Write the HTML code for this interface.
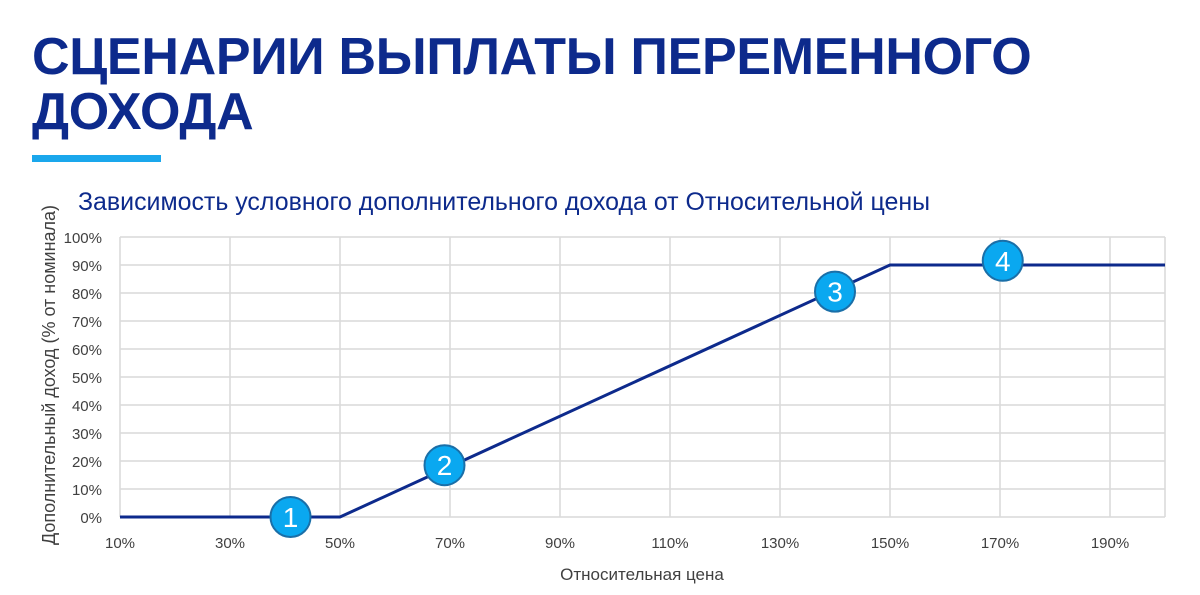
<!DOCTYPE html>
<html><head><meta charset="utf-8"><style>
body{margin:0;width:1200px;height:595px;background:#fff;overflow:hidden;font-family:"Liberation Sans",sans-serif}
h1{position:absolute;left:32px;top:30px;margin:0;font-size:52px;line-height:55px;font-weight:bold;color:#0d2a8c;letter-spacing:-0.3px}
.bar{position:absolute;left:32px;top:155px;width:129px;height:7px;background:#1aa7ec}
svg{position:absolute;left:0;top:0}
</style></head><body>
<h1>СЦЕНАРИИ ВЫПЛАТЫ ПЕРЕМЕННОГО<br>ДОХОДА</h1>
<div class="bar"></div>
<svg id="c" width="1200" height="595"></svg>
<script>
const xTicks=[10,30,50,70,90,110,130,150,170,190];
const yTicks=[0,10,20,30,40,50,60,70,80,90,100];
const lineX=[10,50,150,200];
const lineY=[0,0,90,90];
const markerLabels=["1","2","3","4"];
const markerX=[41,69,140,170.5];
const markerY=[0,18.5,80.5,91.5];
const ns="http://www.w3.org/2000/svg";
const svg=document.getElementById('c');
const X=v=>120+(v-10)*5.5, Y=v=>517-v*2.8;
function mk(t,a,p){const e=document.createElementNS(ns,t);for(const k in a)e.setAttribute(k,a[k]);(p||svg).appendChild(e);return e;}
const t=mk('text',{x:78,y:210,'font-size':25,fill:'#0d2a8c',textLength:852,lengthAdjust:'spacingAndGlyphs'});


t.textContent='Зависимость условного дополнительного дохода от Относительной цены';
const gx=xTicks.concat([200]);
gx.forEach(v=>{const l=mk('line',{x1:X(v),x2:X(v),y1:Y(100),y2:Y(0),stroke:'#d9d9d9','stroke-width':1.5});

});
yTicks.forEach(v=>{const l=mk('line',{x1:X(10),x2:X(200),y1:Y(v),y2:Y(v),stroke:'#d9d9d9','stroke-width':1.5});


const tx=mk('text',{x:102,y:Y(v)+6,'font-size':15,'text-anchor':'end',fill:'#404040'});


tx.textContent=v+'%';});
xTicks.forEach(v=>{const tx=mk('text',{x:X(v),y:548,'font-size':15,'text-anchor':'middle',fill:'#404040'});


tx.textContent=v+'%';});
const xt=mk('text',{x:642,y:580,'font-size':17,'text-anchor':'middle',fill:'#404040'});


xt.textContent='Относительная цена';
const yt=mk('text',{x:0,y:0,'font-size':18,'text-anchor':'middle',fill:'#404040',textLength:340,lengthAdjust:'spacingAndGlyphs',transform:'translate(55,375) rotate(-90)'});


yt.textContent='Дополнительный доход  (% от номинала)';
const pl=mk('polyline',{points:lineX.map((v,i)=>X(v)+','+Y(lineY[i])).join(' '),fill:'none',stroke:'#0d2a8c','stroke-width':3});


markerX.forEach((v,i)=>{const g=mk('g',{});


mk('circle',{cx:X(v),cy:Y(markerY[i]),r:20,fill:'#0aa8f0',stroke:'#1a6fa8','stroke-width':2},g);
const tx=mk('text',{x:X(v),y:Y(markerY[i])+10,'font-size':28,'text-anchor':'middle',fill:'#fff'},g);
tx.textContent=markerLabels[i];});
</script>
</body></html>
